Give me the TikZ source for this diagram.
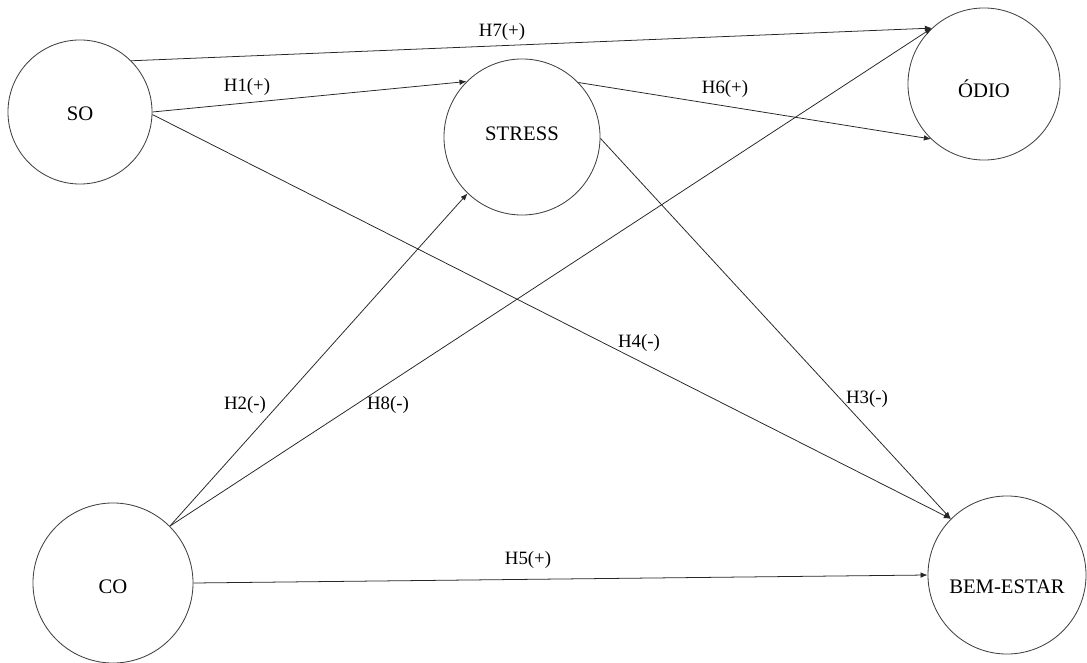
\documentclass[tikz,border=0pt]{standalone}
\usepackage{fontspec}
\setmainfont{Liberation Serif}
\usetikzlibrary{arrows.meta}

\begin{document}
\begin{tikzpicture}[
	x=0.025cm, y=-0.025cm,
	construct/.style={
		circle, draw=black!75, line width=0.6pt,
		minimum size=3.9cm, inner sep=0pt,
		font=\fontsize{14.7}{16}\selectfont
	},
	hyp/.style={font=\fontsize{13.4}{15}\selectfont, inner sep=1pt},
	arrow/.style={-{Latex[length=5pt,width=4pt]}, line width=0.55pt, color=black!85}
	]
	
	\useasboundingbox (0,0) rectangle (1087,663);
	
	% Constructs
	\node[construct, minimum size=3.6cm, text height=12.8pt, text depth=0pt] (so) at (80,112) {SO};
	\node[construct, text depth=5pt] (stress) at (522,137) {STRESS};
	\node[construct, minimum size=3.8cm, text height=18.9pt, text depth=0pt] (odio) at (984,84) {ÓDIO};
	\node[construct, minimum size=4cm, text height=14.7pt, text depth=0pt] (co) at (113,583) {CO};
	\node[construct, minimum size=3.95cm, text height=26.7pt, text depth=0pt] (bem) at (1007,575) {BEM-ESTAR};
	
	% Paths
	\draw[arrow] (so.45) -- (odio.133);
	\draw[arrow] (so.east) -- (stress.135);
	\draw[arrow] (so.-2) -- (bem.135);
	\draw[arrow] (stress.44) -- (odio.226);
	\draw[arrow] (stress.-1) -- (bem.135);
	\draw[arrow] (co.45) -- (stress.226);
	\draw[arrow] (co.45) -- (odio.133);
	\draw[arrow] (co.east) -- (bem.west);
	
	% Hypotheses
	\node[hyp] (h1) at (247,87) {H1(+)};
	\node[hyp] (h2) at (245,405) {H2(-)};
	\node[hyp] (h3) at (867,399) {H3(-)};
	\node[hyp] (h4) at (639,343) {H4(-)};
	\node[hyp] (h5) at (528,560) {H5(+)};
	\node[hyp] (h6) at (725,89) {H6(+)};
	\node[hyp] (h7) at (502,32) {H7(+)};
	\node[hyp] (h8) at (388,405) {H8(-)};
	
\end{tikzpicture}
\end{document}
